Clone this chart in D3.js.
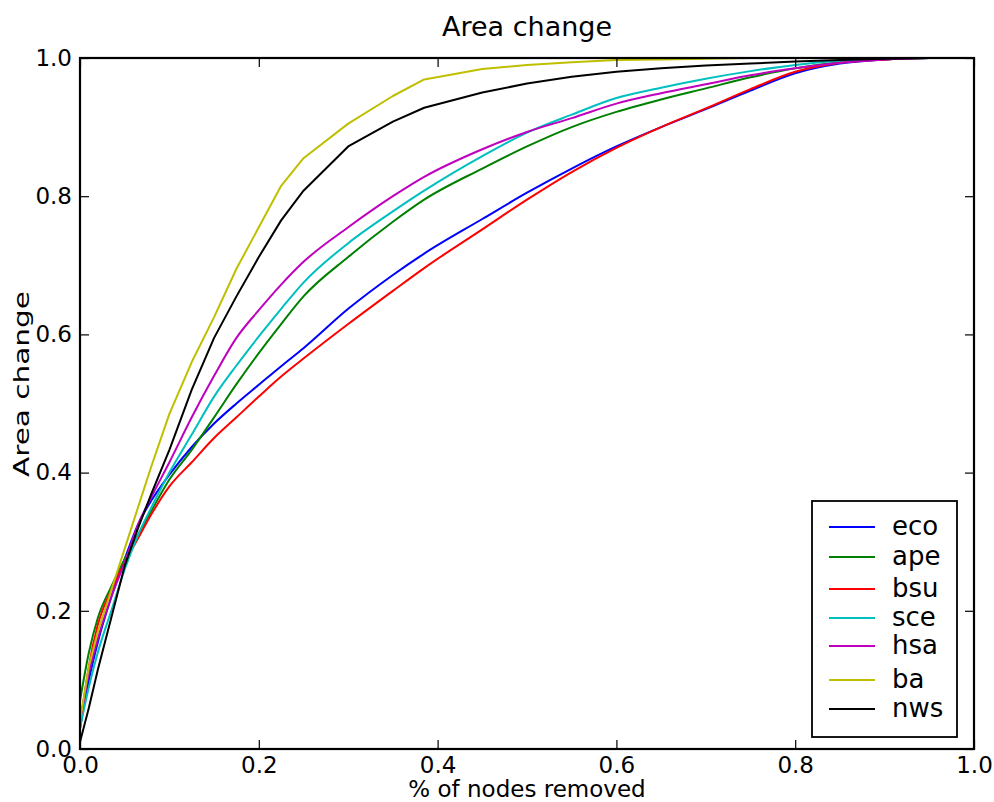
<!DOCTYPE html>
<html>
<head>
<meta charset="utf-8">
<script src="https://cdn.jsdelivr.net/npm/d3@7"></script>
<style>
  html, body { margin: 0; padding: 0; background: #fff; }
  svg text { font-family: "DejaVu Sans", sans-serif; fill: #000; }
</style>
</head>
<body>
<svg id="chart" width="994" height="802"></svg>
<script>
// ---- data ----
const xs = [0, 0.01, 0.02, 0.035, 0.05, 0.065, 0.08, 0.1, 0.125, 0.15, 0.175, 0.2, 0.225, 0.25, 0.3, 0.35, 0.385, 0.45, 0.5, 0.55, 0.6, 0.65, 0.7, 0.75, 0.8, 0.85, 0.9, 0.95];

const eco = [0.03, 0.10, 0.155, 0.22, 0.275, 0.325, 0.36, 0.397, 0.437, 0.471, 0.50, 0.527, 0.554, 0.58, 0.637, 0.686, 0.717, 0.767, 0.805, 0.84, 0.872, 0.90, 0.926, 0.953, 0.978, 0.992, 0.998, 1.0];
const ape = [0.07, 0.14, 0.19, 0.235, 0.275, 0.31, 0.345, 0.39, 0.433, 0.48, 0.528, 0.573, 0.615, 0.655, 0.712, 0.763, 0.795, 0.84, 0.872, 0.90, 0.922, 0.94, 0.956, 0.972, 0.985, 0.994, 0.998, 1.0];
const bsu = [0.03, 0.12, 0.18, 0.23, 0.27, 0.305, 0.34, 0.38, 0.415, 0.45, 0.48, 0.51, 0.539, 0.565, 0.615, 0.663, 0.696, 0.752, 0.795, 0.835, 0.87, 0.90, 0.927, 0.955, 0.98, 0.993, 0.998, 1.0];
const sce = [0.03, 0.09, 0.14, 0.20, 0.26, 0.31, 0.35, 0.40, 0.455, 0.51, 0.555, 0.597, 0.637, 0.675, 0.732, 0.778, 0.808, 0.858, 0.892, 0.918, 0.942, 0.957, 0.97, 0.981, 0.99, 0.996, 0.999, 1.0];
const hsa = [0.04, 0.11, 0.16, 0.22, 0.27, 0.325, 0.365, 0.415, 0.48, 0.54, 0.595, 0.635, 0.672, 0.705, 0.755, 0.80, 0.828, 0.868, 0.893, 0.913, 0.934, 0.949, 0.962, 0.975, 0.985, 0.993, 0.998, 1.0];
const ba  = [0.04, 0.12, 0.17, 0.23, 0.29, 0.35, 0.41, 0.485, 0.56, 0.625, 0.695, 0.755, 0.815, 0.855, 0.905, 0.945, 0.969, 0.984, 0.99, 0.994, 0.997, 0.998, 0.999, 1.0, 1.0, 1.0, 1.0, 1.0];
const nws = [0.01, 0.06, 0.115, 0.19, 0.265, 0.32, 0.37, 0.433, 0.52, 0.595, 0.655, 0.712, 0.765, 0.808, 0.872, 0.908, 0.928, 0.95, 0.963, 0.973, 0.98, 0.985, 0.989, 0.992, 0.995, 0.997, 0.999, 1.0];

const seriesNames = ["eco", "ape", "bsu", "sce", "hsa", "ba", "nws"];
const seriesValues = [eco, ape, bsu, sce, hsa, ba, nws];
const seriesColors = ["#0000ff", "#008000", "#ff0000", "#00bfbf", "#bf00bf", "#bfbf00", "#000000"];
const seriesSmooth = [true, true, true, true, true, false, false];

const tickValues = [0, 0.2, 0.4, 0.6, 0.8, 1.0];
const tickLabels = ["0.0", "0.2", "0.4", "0.6", "0.8", "1.0"];

const titleText = "Area change";
const xLabelText = "% of nodes removed";
const yLabelText = "Area change";

// ---- layout ----
const L = 80, R = 974, T = 58, B = 749;
const svg = d3.select("#chart");

const x = d3.scaleLinear().domain([0, 1]).range([L, R]);
const y = d3.scaleLinear().domain([0, 1]).range([B, T]);
const fmt = d => tickLabels[tickValues.indexOf(d)];

// lines
const smoothLine = d3.line().x(d => x(d[0])).y(d => y(d[1])).curve(d3.curveMonotoneX);
const straightLine = d3.line().x(d => x(d[0])).y(d => y(d[1]));
const plot = svg.append("g");
seriesValues.forEach((vals, i) => {
  const pts = xs.map((xv, j) => [xv, vals[j]]);
  plot.append("path")
    .attr("d", (seriesSmooth[i] ? smoothLine : straightLine)(pts))
    .attr("fill", "none")
    .attr("stroke", seriesColors[i])
    .attr("stroke-width", 2)
    .attr("stroke-linejoin", "round");
});

// axes (inward ticks on all four sides)
function styleAxis(g) {
  g.select(".domain").remove();
  g.selectAll(".tick line").attr("stroke", "#000").attr("stroke-width", 1.2);
  g.selectAll(".tick text").style("font-size", "23px").style("font-family", "DejaVu Sans, sans-serif");
}
svg.append("g").attr("transform", `translate(0,${B})`)
  .call(d3.axisBottom(x).tickValues(tickValues).tickFormat(fmt).tickSize(-9).tickPadding(8))
  .call(styleAxis);
svg.append("g").attr("transform", `translate(${L},0)`)
  .call(d3.axisLeft(y).tickValues(tickValues).tickFormat(fmt).tickSize(-9).tickPadding(8))
  .call(styleAxis);
svg.append("g").attr("transform", `translate(0,${T})`)
  .call(d3.axisTop(x).tickValues(tickValues).tickFormat("").tickSize(-9))
  .call(styleAxis);
svg.append("g").attr("transform", `translate(${R},0)`)
  .call(d3.axisRight(y).tickValues(tickValues).tickFormat("").tickSize(-9))
  .call(styleAxis);

// frame
svg.append("rect").attr("x", L).attr("y", T).attr("width", R - L).attr("height", B - T)
  .attr("fill", "none").attr("stroke", "#000").attr("stroke-width", 2.2);

// title and labels
svg.append("text").attr("x", (L + R) / 2).attr("y", 36).attr("text-anchor", "middle")
  .style("font-size", "27px").text(titleText);
svg.append("text").attr("x", (L + R) / 2).attr("y", 797).attr("text-anchor", "middle")
  .style("font-size", "23px").text(xLabelText);
svg.append("text").attr("transform", "translate(29,384) rotate(-90)")
  .attr("text-anchor", "middle").style("font-size", "22px")
  .attr("textLength", 186).attr("lengthAdjust", "spacingAndGlyphs").text(yLabelText);

// legend
const legBox = { x: 812, y: 501, w: 145, h: 236 };
const legRows = [527, 557, 589, 618, 646, 680, 709];
const leg = svg.append("g");
leg.append("rect").attr("x", legBox.x).attr("y", legBox.y).attr("width", legBox.w).attr("height", legBox.h)
  .attr("fill", "#fff").attr("stroke", "#000").attr("stroke-width", 1.8);
seriesNames.forEach((name, i) => {
  const ry = legRows[i];
  leg.append("line").attr("x1", 829).attr("x2", 875).attr("y1", ry).attr("y2", ry)
    .attr("stroke", seriesColors[i]).attr("stroke-width", 2);
  leg.append("text").attr("x", 892).attr("y", ry).attr("dy", "0.3em")
    .style("font-size", "26px").text(name);
});
</script>
</body>
</html>
